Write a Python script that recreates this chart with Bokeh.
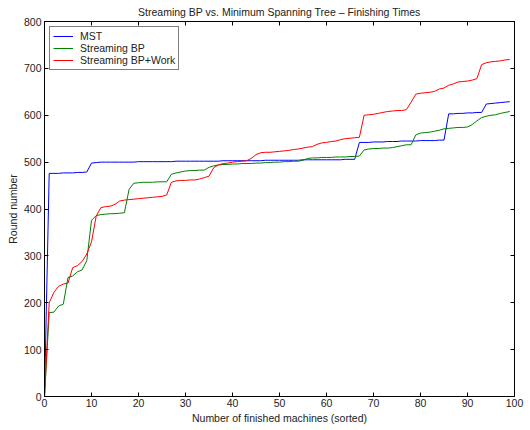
from bokeh.plotting import figure
from bokeh.models import LinearAxis, Range1d, FixedTicker, ColumnDataSource
from bokeh.embed import file_html
from bokeh.resources import INLINE

# Finishing round per machine, machines sorted by finishing time
machines = list(range(100))

mst = [0, 476, 476, 476, 477, 477, 477, 478, 478, 479,
       498, 499, 500, 500, 500, 500, 500, 500, 500, 500,
       501, 501, 501, 501, 501, 501, 501, 501, 502, 502,
       502, 502, 502, 502, 502, 502, 502, 502, 503, 503,
       503, 503, 503, 503, 503, 503, 503, 504, 504, 504,
       504, 504, 504, 504, 504, 505, 505, 505, 505, 505,
       505, 505, 505, 505, 506, 506, 506, 542, 542, 542,
       543, 543, 543, 544, 544, 544, 545, 545, 545, 545,
       546, 546, 546, 546, 547, 547, 603, 603, 604, 604,
       605, 605, 606, 606, 624, 625, 626, 627, 628, 629]

streaming_bp = [0, 179, 180, 193, 197, 254, 257, 266, 270, 290,
                376, 386, 388, 389, 390, 390, 391, 392, 442, 455,
                456, 457, 457, 457, 458, 458, 458, 474, 477, 479,
                481, 482, 482, 483, 483, 489, 492, 494, 495, 495,
                496, 496, 497, 497, 497, 498, 498, 499, 499, 500,
                500, 501, 501, 502, 502, 504, 508, 509, 509, 510,
                510, 510, 511, 511, 511, 512, 512, 513, 526, 528,
                529, 529, 530, 530, 531, 533, 535, 537, 537, 558,
                562, 563, 564, 566, 568, 571, 572, 573, 574, 574,
                575, 580, 588, 595, 598, 600, 601, 604, 606, 608]

streaming_bp_work = [0, 200, 222, 235, 240, 242, 275, 279, 288, 304,
                     330, 385, 403, 405, 406, 410, 417, 419, 420, 421,
                     422, 423, 424, 425, 426, 427, 430, 457, 460, 461,
                     461, 462, 462, 464, 467, 470, 488, 494, 497, 498,
                     500, 501, 502, 503, 508, 516, 520, 521, 521, 522,
                     523, 524, 525, 527, 528, 530, 532, 533, 538, 541,
                     542, 544, 545, 548, 550, 551, 552, 553, 600, 601,
                     602, 604, 606, 608, 609, 610, 610, 612, 628, 645,
                     647, 648, 649, 651, 656, 658, 664, 667, 671, 672,
                     673, 675, 678, 708, 712, 714, 715, 716, 718, 719]

series_names = ["MST", "Streaming BP", "Streaming BP+Work"]
series_colors = ["#0000ff", "#008000", "#ff0000"]
x_ticks = list(range(0, 101, 10))
y_ticks = list(range(0, 801, 100))

FONT = "Liberation Sans"
SIZE = "10.5px"
TEXT = "#222222"

p = figure(width=530, height=430, output_backend="svg", toolbar_location=None,
           x_range=Range1d(0, 100), y_range=Range1d(0, 800),
           min_border_left=44, min_border_right=16, min_border_top=20, min_border_bottom=34,
           title="Streaming BP vs. Minimum Spanning Tree \u2013 Finishing Times")
p.title.align = "center"
p.title.offset = 16
p.title.text_font = FONT
p.title.text_font_size = SIZE
p.title.text_font_style = "normal"
p.title.text_color = TEXT
p.title.standoff = 7

p.xgrid.visible = False
p.ygrid.visible = False
p.outline_line_color = "black"
p.outline_line_width = 1
p.background_fill_color = "white"
p.border_fill_color = "white"

xa = p.xaxis[0]
ya = p.yaxis[0]
xa.ticker = FixedTicker(ticks=x_ticks)
ya.ticker = FixedTicker(ticks=y_ticks)
xa.axis_label = "Number of finished machines (sorted)"
ya.axis_label = "Round number"
xa.major_label_standoff = 2
ya.major_label_standoff = 3
xa.axis_label_standoff = 2
ya.axis_label_standoff = 2

# unlabeled tick-only axes on the top and right edges of the frame
top = LinearAxis(ticker=FixedTicker(ticks=x_ticks))
right = LinearAxis(ticker=FixedTicker(ticks=y_ticks))
p.add_layout(top, "above")
p.add_layout(right, "right")

for ax in (xa, ya, top, right):
    ax.major_tick_in = 4
    ax.major_tick_out = 0
    ax.minor_tick_line_color = None
    ax.axis_line_color = "black"
    ax.major_tick_line_color = "black"
    ax.major_label_text_font = FONT
    ax.major_label_text_font_size = SIZE
    ax.major_label_text_color = TEXT
    ax.axis_label_text_font = FONT
    ax.axis_label_text_font_size = SIZE
    ax.axis_label_text_font_style = "normal"
    ax.axis_label_text_color = TEXT
for ax in (top, right):
    ax.major_label_text_color = None
    ax.major_label_standoff = 0

src = ColumnDataSource(dict(x=machines, mst=mst, sbp=streaming_bp, sbpw=streaming_bp_work))
for col, color, name in zip(["mst", "sbp", "sbpw"], series_colors, series_names):
    p.line("x", col, source=src, line_color=color, line_width=1, legend_label=name)

legend = p.legend[0]
legend.location = "top_left"
legend.label_text_font = FONT
legend.label_text_font_size = SIZE
legend.label_text_color = TEXT
legend.label_height = 10
legend.label_standoff = 7
legend.glyph_height = 10
legend.glyph_width = 20
legend.spacing = 0
legend.padding = 3
legend.margin = 5
legend.border_line_color = "black"
legend.border_line_width = 1
legend.background_fill_alpha = 1

open("out.html", "w").write(file_html(p, INLINE))
